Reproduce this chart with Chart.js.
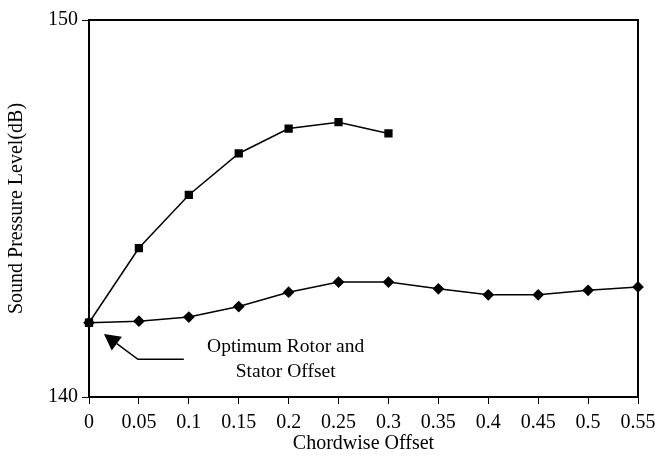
<!DOCTYPE html>
<html>
<head>
<meta charset="utf-8">
<script src="https://cdn.jsdelivr.net/npm/chart.js@4.4.1/dist/chart.umd.min.js"></script>
<style>
    body { margin: 0; background: #fff; }
    #wrap { width: 655px; height: 456px; }
</style>
</head>
<body>
<div id="wrap"><canvas id="splChart" width="655" height="456"></canvas></div>
<script>
// chart data
const offsets = [0, 0.05, 0.1, 0.15, 0.2, 0.25, 0.3, 0.35, 0.4, 0.45, 0.5, 0.55];
const splSquares = [141.97, 143.95, 145.36, 146.46, 147.12, 147.29, 146.99];
const splDiamonds = [141.97, 142.01, 142.12, 142.40, 142.78, 143.05, 143.05, 142.87, 142.71, 142.71, 142.83, 142.92];
const yTicks = [140, 150];

// annotation text and arrow, in data units
const noteLines = ['Optimum Rotor and', 'Stator Offset'];
const noteAt = { x: 0.197, y: [141.19, 140.53] };
const arrowTip = { x: 0.015, y: 141.67 };
const arrowElbow = { x: 0.049, y: 141.0 };
const arrowEnd = { x: 0.095, y: 141.0 };

const serif = '"Liberation Serif", "Times New Roman", serif';

function toPoints(values) {
    return values.map((v, i) => ({ x: offsets[i], y: v }));
}

const framePlugin = {
    id: 'frame',
    afterDatasetsDraw(chart) {
        const { ctx, chartArea, scales } = chart;
        ctx.save();
        ctx.strokeStyle = '#000';
        ctx.lineWidth = 2;
        ctx.strokeRect(chartArea.left, chartArea.top, chartArea.right - chartArea.left, chartArea.bottom - chartArea.top);

        // annotation
        const px = v => scales.x.getPixelForValue(v);
        const py = v => scales.y.getPixelForValue(v);
        const tip = [px(arrowTip.x), py(arrowTip.y)];
        const elbow = [px(arrowElbow.x), py(arrowElbow.y)];
        const end = [px(arrowEnd.x), py(arrowEnd.y)];
        ctx.lineWidth = 1.5;
        ctx.beginPath();
        ctx.moveTo(end[0], end[1]);
        ctx.lineTo(elbow[0], elbow[1]);
        const ang = Math.atan2(tip[1] - elbow[1], tip[0] - elbow[0]);
        const headLen = 16, headHalf = 8.5;
        const bx = tip[0] - headLen * Math.cos(ang), by = tip[1] - headLen * Math.sin(ang);
        ctx.lineTo(bx, by);
        ctx.stroke();
        ctx.fillStyle = '#000';
        ctx.beginPath();
        ctx.moveTo(tip[0], tip[1]);
        ctx.lineTo(bx + headHalf * Math.sin(ang), by - headHalf * Math.cos(ang));
        ctx.lineTo(bx - headHalf * Math.sin(ang), by + headHalf * Math.cos(ang));
        ctx.closePath();
        ctx.fill();

        ctx.font = '19.5px ' + serif;
        ctx.textAlign = 'center';
        ctx.textBaseline = 'alphabetic';
        noteLines.forEach((t, i) => ctx.fillText(t, px(noteAt.x), py(noteAt.y[i])));
        ctx.restore();
    }
};

new Chart(document.getElementById('splChart'), {
    type: 'line',
    data: {
        datasets: [{
            data: toPoints(splSquares),
            borderColor: '#000',
            backgroundColor: '#000',
            borderWidth: 1.5,
            pointStyle: 'rect',
            pointRadius: 4.8,
            tension: 0,
            clip: false
        }, {
            data: toPoints(splDiamonds),
            borderColor: '#000',
            backgroundColor: '#000',
            borderWidth: 1.5,
            pointStyle: 'rectRot',
            pointRadius: 4.8,
            tension: 0,
            clip: false
        }]
    },
    options: {
        responsive: false,
        animation: false,
        layout: { padding: { left: 0, top: 20, right: 17, bottom: 0 } },
        plugins: { legend: { display: false }, tooltip: { enabled: false } },
        scales: {
            x: {
                type: 'linear',
                min: 0,
                max: 0.55,
                afterFit: scale => { scale.height = 59; scale.paddingRight = 0; },
                grid: { drawOnChartArea: false, tickLength: 7, color: '#000', lineWidth: 1 },
                border: { color: '#000', width: 2 },
                ticks: {
                    stepSize: 0.05,
                    padding: 7,
                    color: '#000',
                    font: { family: serif, size: 20 },
                    maxRotation: 0,
                    autoSkip: false,
                    callback: v => String(Number(v.toFixed(2)))
                },
                title: {
                    display: true,
                    text: 'Chordwise Offset',
                    color: '#000',
                    font: { family: serif, size: 20 },
                    padding: { top: 0, bottom: 0 }
                }
            },
            y: {
                min: 140,
                max: 150,
                afterFit: scale => { scale.width = 89; },
                afterBuildTicks: scale => { scale.ticks = yTicks.map(v => ({ value: v })); },
                grid: { drawOnChartArea: false, tickLength: 7, color: '#000', lineWidth: 1 },
                border: { color: '#000', width: 2 },
                ticks: {
                    padding: 4,
                    color: '#000',
                    font: { family: serif, size: 20 }
                },
                title: {
                    display: true,
                    text: 'Sound Pressure Level(dB)',
                    color: '#000',
                    font: { family: serif, size: 20 },
                    padding: { top: 5, bottom: 0 }
                }
            }
        }
    },
    plugins: [framePlugin]
});
</script>
</body>
</html>
